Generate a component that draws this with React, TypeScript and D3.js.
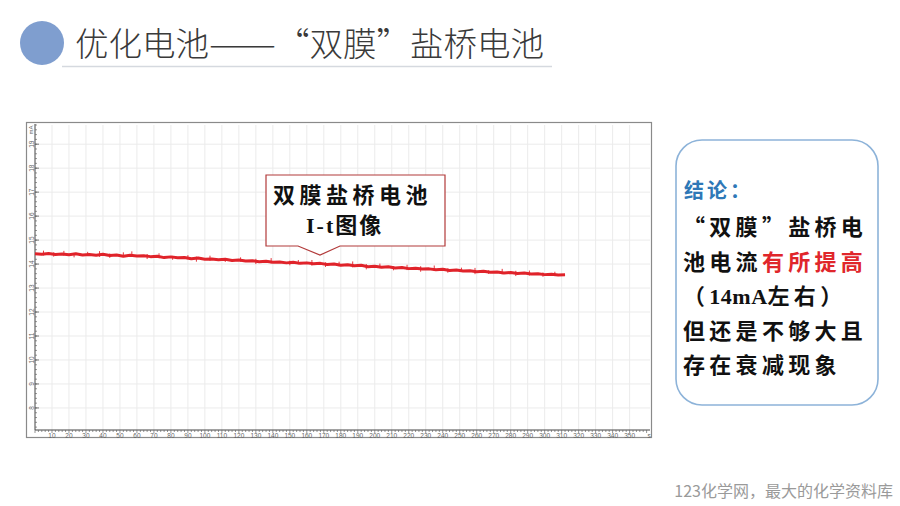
import React from 'react';
import * as d3 from 'd3';

const TITLE_A = '优化电池';
const TITLE_DASH = '——';
const TITLE_B = '“双膜”盐桥电池';
const FOOTER = '123化学网，最大的化学资料库';
const X_TICKS = [10, 20, 30, 40, 50, 60, 70, 80, 90, 100, 110, 120, 130, 140, 150, 160, 170, 180, 190, 200, 210, 220, 230, 240, 250, 260, 270, 280, 290, 300, 310, 320, 330, 340, 350];
const X_UNIT = 's';
const Y_TICKS = [8, 9, 10, 11, 12, 13, 14, 15, 16, 17, 18, 19];
const Y_UNIT = 'mA';
const T_STEP = 4; // seconds between samples
const CURRENT = [
  14.43, 14.41, 14.44, 14.40, 14.42, 14.39, 14.43, 14.38, 14.40, 14.37,
  14.41, 14.36, 14.38, 14.33, 14.37, 14.34, 14.35, 14.31, 14.33, 14.27,
  14.30, 14.26, 14.27, 14.22, 14.25, 14.20, 14.21, 14.18, 14.20, 14.15,
  14.17, 14.13, 14.14, 14.10, 14.12, 14.08, 14.09, 14.05, 14.08, 14.03,
  14.05, 14.01, 14.03, 13.98, 14.00, 13.95, 13.97, 13.93, 13.95, 13.89,
  13.91, 13.87, 13.89, 13.84, 13.86, 13.81, 13.83, 13.79, 13.80, 13.76,
  13.78, 13.73, 13.75, 13.71, 13.72, 13.68, 13.70, 13.66, 13.67, 13.63,
  13.65, 13.61, 13.63, 13.59, 13.60, 13.56, 13.58, 13.54, 13.55,
];
// noise spikes: [time (s), top (mA), bottom (mA)]
const SPIKES: [number, number, number][] = [
  [5, 14.56, 14.36], [11, 14.49, 14.31], [17, 14.55, 14.35], [23, 14.46, 14.28],
  [31, 14.51, 14.35], [38, 14.54, 14.30], [44, 14.44, 14.26], [52, 14.49, 14.30],
  [57, 14.53, 14.30], [66, 14.42, 14.21], [73, 14.45, 14.24], [81, 14.34, 14.18],
  [90, 14.37, 14.20], [95, 14.31, 14.10], [103, 14.35, 14.14], [112, 14.25, 14.09],
  [121, 14.28, 14.10], [130, 14.22, 14.00], [139, 14.25, 14.03], [150, 14.14, 13.95],
  [155, 14.17, 13.99], [163, 14.17, 13.93], [171, 14.07, 13.88], [179, 14.10, 13.91],
  [187, 14.11, 13.86], [195, 14.00, 13.78], [203, 14.02, 13.83], [211, 13.91, 13.74],
  [219, 13.97, 13.75], [227, 13.91, 13.68], [235, 13.94, 13.71], [243, 13.82, 13.64],
  [251, 13.85, 13.67], [259, 13.84, 13.58], [267, 13.74, 13.59], [275, 13.80, 13.58],
  [283, 13.72, 13.50], [291, 13.73, 13.52], [299, 13.65, 13.47], [306, 13.68, 13.50],
];
const CALLOUT_LINES = ['双膜盐桥电池', 'I-t图像'];
const CONCLUSION_HEAD = '结论：';
const CONCLUSION_LINES: { text: string; red?: boolean; latin?: boolean }[][] = [
  [{ text: '“双膜”盐桥电' }],
  [{ text: '池电流' }, { text: '有所提高', red: true }],
  [{ text: '（' }, { text: '14mA', latin: true }, { text: '左右）' }],
  [{ text: '但还是不够大且' }],
  [{ text: '存在衰减现象' }],
];

export default function App() {
  const W = 900, H = 506;
  const x = d3.scaleLinear().domain([0, 362]).range([35, 650]);
  const y = d3.scaleLinear().domain([7.08, 19.8]).range([430, 125]);
  const pts: [number, number][] = CURRENT.map((v, i) => [i * T_STEP, v]);
  const line = d3.line<[number, number]>().x(d => x(d[0])).y(d => y(d[1]));

  const xMinor = d3.range(0, 362, 2);
  const yMinor = d3.range(7.2, 19.8, 0.2);
  const cjk = '"Noto Sans CJK SC", sans-serif';
  const serif = '"Liberation Serif", serif';
  const fwid: React.CSSProperties = { fontFeatureSettings: '"fwid" 1' };
  const tfs = 33.5;

  return (
    <svg width={W} height={H} style={{ position: 'absolute', left: 0, top: 0, background: '#fff' }}>
      <rect width={W} height={H} fill="#fff" />
      {/* header */}
      <circle cx={42} cy={43} r={22} fill="#7f9ecf" />
      <text x={75} y={56} fontFamily={cjk} fontSize={tfs} fill="#3a3a3a" fontWeight={300} style={fwid}>{TITLE_A}</text>
      <text x={75 + 4 * tfs} y={56} fontFamily={cjk} fontSize={tfs} fill="#3a3a3a" fontWeight={300} textLength={2 * tfs} lengthAdjust="spacingAndGlyphs">{TITLE_DASH}</text>
      <text x={75 + 6 * tfs} y={56} fontFamily={cjk} fontSize={tfs} fill="#3a3a3a" fontWeight={300} style={fwid}>{TITLE_B}</text>
      <line x1={62} x2={552} y1={66.5} y2={66.5} stroke="#d5d9df" strokeWidth={1.5} />

      {/* chart frame */}
      <rect x={26.5} y={122.5} width={625} height={315} fill="#fff" stroke="#8a8a8a" strokeWidth={1.2} />
      {/* grid */}
      {X_TICKS.map(t => (
        <line key={'gx' + t} x1={x(t)} x2={x(t)} y1={125} y2={430} stroke="#ebebeb" strokeWidth={1} />
      ))}
      {Y_TICKS.map(v => (
        <line key={'gy' + v} x1={35} x2={650} y1={y(v)} y2={y(v)} stroke="#ebebeb" strokeWidth={1} />
      ))}
      {/* axes */}
      <line x1={35} x2={35} y1={124} y2={430} stroke="#444" strokeWidth={1} />
      <line x1={35} x2={650} y1={430} y2={430} stroke="#444" strokeWidth={1} />
      {xMinor.map(t => (
        <line key={'mx' + t} x1={x(t)} x2={x(t)} y1={430} y2={t % 10 === 0 ? 433 : 432} stroke="#666" strokeWidth={0.7} />
      ))}
      {yMinor.map((v, i) => (
        <line key={'my' + i} x1={35} x2={37} y1={y(v)} y2={y(v)} stroke="#666" strokeWidth={0.7} />
      ))}
      {Y_TICKS.map(v => (
        <line key={'ty' + v} x1={35} x2={39} y1={y(v)} y2={y(v)} stroke="#555" strokeWidth={0.8} />
      ))}
      {X_TICKS.map(t => (
        <text key={'lx' + t} x={x(t)} y={437.5} fontSize={6.5} fill="#666" textAnchor="middle" fontFamily="Liberation Sans, sans-serif">{t}</text>
      ))}
      <text x={649} y={437.5} fontSize={6.5} fill="#666" textAnchor="middle" fontFamily="Liberation Sans, sans-serif">{X_UNIT}</text>
      {Y_TICKS.map(v => (
        <text key={'ly' + v} transform={`translate(31,${y(v)}) rotate(-90)`} fontSize={6.5} fill="#666" textAnchor="middle" dominantBaseline="central" fontFamily="Liberation Sans, sans-serif">{v}</text>
      ))}
      <text transform={`translate(31,130) rotate(-90)`} fontSize={6} fill="#666" textAnchor="middle" dominantBaseline="central" fontFamily="Liberation Sans, sans-serif">{Y_UNIT}</text>

      {/* data */}
      <path d={line(pts) || ''} fill="none" stroke="#e0232a" strokeWidth={3} strokeLinejoin="round" />
      {SPIKES.map(([t, hi, lo], i) => (
        <line key={'sp' + i} x1={x(t)} x2={x(t)} y1={y(hi)} y2={y(lo)} stroke="#e0232a" strokeWidth={0.9} />
      ))}

      {/* callout */}
      <path d="M266,175 H445 V246 H340 L320,255 L298,246 H266 Z" fill="#fff" stroke="#b23a3a" strokeWidth={1.2} />
      <text x={273} y={203} fontFamily={cjk} fontSize={22} fontWeight={700} letterSpacing={4.5} fill="#111">{CALLOUT_LINES[0]}</text>
      <text x={306} y={233} fontFamily={`${serif}, "Noto Sans CJK SC"`} fontSize={22} fontWeight={700} letterSpacing={2} fill="#111">{CALLOUT_LINES[1]}</text>

      {/* conclusion box */}
      <rect x={676} y={140} width={202} height={265} rx={26} ry={26} fill="#fff" stroke="#8db3d9" strokeWidth={1.6} />
      <text x={684} y={198} fontFamily={cjk} fontSize={20} fontWeight={700} fill="#2e78b7" letterSpacing={3}>{CONCLUSION_HEAD}</text>
      {CONCLUSION_LINES.map((segs, i) => (
        <text key={'c' + i} x={683} y={235 + i * 34.5} fontSize={22} fontWeight={700} fill="#111">
          {segs.map((s, j) => (
            <tspan key={j} fill={s.red ? '#e0262b' : '#111'} fontFamily={s.latin ? serif : cjk} letterSpacing={s.latin ? 0.5 : 4.3} style={s.latin ? undefined : fwid}>{s.text}</tspan>
          ))}
        </text>
      ))}

      {/* footer */}
      <text x={893} y={497} textAnchor="end" fontFamily={cjk} fontSize={16} fill="#9a9a9a">{FOOTER}</text>
    </svg>
  );
}
